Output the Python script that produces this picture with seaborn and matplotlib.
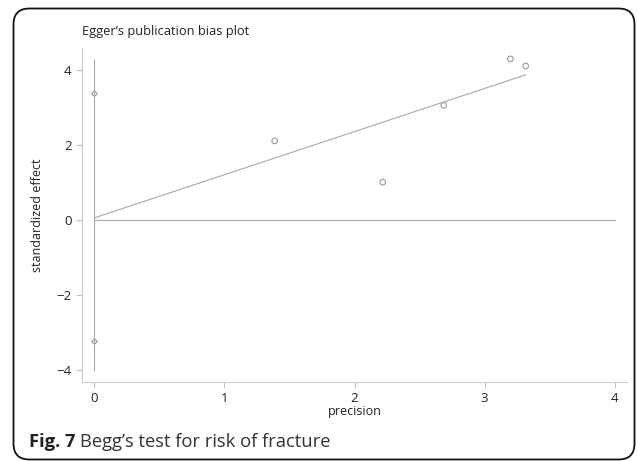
import numpy as np
import pandas as pd
import matplotlib
matplotlib.use("Agg")
import matplotlib.pyplot as plt
from matplotlib.patches import FancyBboxPatch
import seaborn as sns

# Study points: precision (1/SE) vs standardized effect
precision = [0.0, 0.0, 1.386, 2.217, 2.686, 3.199, 3.317]
std_effect = [3.37, -3.24, 2.11, 1.01, 3.06, 4.30, 4.11]
marker_kind = ["low", "low", "study", "study", "study", "study", "study"]

# Egger regression line and confidence interval of the intercept
reg_intercept = 0.06
reg_slope = 1.15
intercept_ci = [-4.02, 4.29]

x_ticks = [0, 1, 2, 3, 4]
y_ticks = [-4, -2, 0, 2, 4]

title_text = "Egger\u2019s publication bias plot"
x_label = "precision"
y_label = "standardized effect"
caption_bold = "Fig. 7"
caption_text = "Begg\u2019s test for risk of fracture"

sns.set_theme(style="white")
plt.rcParams["font.family"] = ["Open Sans", "DejaVu Sans"]

df = pd.DataFrame({"precision": precision, "effect": std_effect, "kind": marker_kind})

fig = plt.figure(figsize=(6.37, 4.61), dpi=100)
ax = fig.add_axes([82 / 637, 1 - 382 / 461, (627 - 82) / 637, (382 - 48) / 461])

grey = "#a8a8a8"

# Fitted line from zero precision to the largest precision
fit = pd.DataFrame({"precision": [0.0, max(precision)]})
fit["effect"] = reg_intercept + reg_slope * fit["precision"]
sns.lineplot(data=fit, x="precision", y="effect", ax=ax, color=grey, lw=0.8)

# Zero reference line and intercept CI
ref = pd.DataFrame({"precision": [0, x_ticks[-1]], "effect": [0, 0]})
sns.lineplot(data=ref, x="precision", y="effect", ax=ax, color=grey, lw=0.8)
ax.vlines(0, intercept_ci[0], intercept_ci[1], color=grey, lw=0.8)

sns.scatterplot(data=df[df.kind == "study"], x="precision", y="effect", ax=ax,
                marker="o", s=16, facecolor="none", edgecolor="#999999", linewidth=0.8)
sns.scatterplot(data=df[df.kind == "low"], x="precision", y="effect", ax=ax,
                marker="D", s=8, facecolor="none", edgecolor="#999999", linewidth=0.8)

ax.set_xlim(-0.096, 4.096)
ax.set_ylim(-4.32, 4.59)
ax.set_xticks(x_ticks)
ax.set_yticks(y_ticks)
ax.set_yticklabels([str(t).replace("-", "\u2212") for t in y_ticks])

for side in ["top", "right"]:
    ax.spines[side].set_visible(False)
for side in ["left", "bottom"]:
    ax.spines[side].set_color("#cccccc")
    ax.spines[side].set_linewidth(0.8)

ax.tick_params(axis="both", which="major", length=4.5, width=0.8, color="#c0c0c0",
               labelsize=9.5, labelcolor="#222222", pad=3, bottom=True, left=True)

ax.set_xlabel(x_label, fontsize=9, color="#222222", labelpad=0)
ax.set_ylabel(y_label, fontsize=9, color="#222222", labelpad=9)

fig.text(82 / 637, 1 - 31 / 461, title_text, fontsize=9.3, color="#222222",
         ha="left", va="center")

# Caption below the plot
cap1 = fig.text(29 / 637, 1 - 442 / 461, caption_bold, fontsize=13.2, fontweight="bold",
                color="#222222", ha="left", va="center")
fig.canvas.draw()
bb = cap1.get_window_extent()
fig.text((bb.x1 + 5) / 637, 1 - 442 / 461, caption_text, fontsize=13.2,
         color="#333333", ha="left", va="center")

# Rounded frame around the figure
frame = FancyBboxPatch((13.5 / 637, 1.5 / 461), (634.5 - 13.5) / 637, (459.5 - 8.5) / 461,
                       boxstyle="round,pad=0,rounding_size=0.025",
                       transform=fig.transFigure, fill=False, edgecolor="#111111",
                       linewidth=1.3, mutation_aspect=637 / 461)
fig.patches.append(frame)

fig.savefig("out.png", dpi=100)
